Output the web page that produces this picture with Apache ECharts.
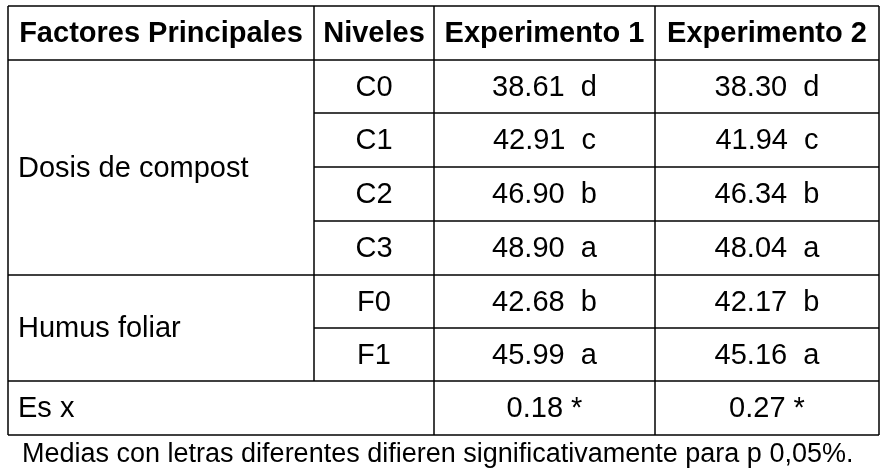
<!DOCTYPE html>
<html><head><meta charset="utf-8">
<script src="https://cdn.jsdelivr.net/npm/echarts@6/dist/echarts.min.js"></script>
<style>html,body{margin:0;background:#fff}#c{width:890px;height:472px}</style>
</head><body><div id="c"></div>
<script>
var headers = ['Factores Principales', 'Niveles', 'Experimento 1', 'Experimento 2'];
var factors = [['Dosis de compost', 4], ['Humus foliar', 2]];
var levels = ['C0', 'C1', 'C2', 'C3', 'F0', 'F1'];
var exp1 = ['38.61  d', '42.91  c', '46.90  b', '48.90  a', '42.68  b', '45.99  a'];
var exp2 = ['38.30  d', '41.94  c', '46.34  b', '48.04  a', '42.17  b', '45.16  a'];
var esx = ['Es x', '0.18 *', '0.27 *'];
var note = 'Medias con letras diferentes difieren significativamente para p 0,05%.';

var colX = [8, 314, 434, 655, 879];
var rowY = [6, 60, 113, 167, 221, 275, 328, 381, 435];
var font = '29px "Liberation Sans", Arial, sans-serif';
var els = [];
function line(x1, y1, x2, y2) {
  els.push({ type: 'line', shape: { x1: x1, y1: y1, x2: x2, y2: y2 }, style: { stroke: '#000', lineWidth: 1.5 } });
}
function txt(s, x, y, align, bold) {
  els.push({ type: 'text', x: x, y: y, style: { text: s, fill: '#000', align: align, verticalAlign: 'middle',
    font: (bold ? 'bold ' : '') + font } });
}
// outer frame & column lines
line(colX[0], rowY[0], colX[4], rowY[0]);
line(colX[0], rowY[8], colX[4], rowY[8]);
line(colX[0], rowY[0], colX[0], rowY[8]);
line(colX[4], rowY[0], colX[4], rowY[8]);
line(colX[1], rowY[0], colX[1], rowY[7]);
line(colX[2], rowY[0], colX[2], rowY[8]);
line(colX[3], rowY[0], colX[3], rowY[8]);
// horizontal lines
line(colX[0], rowY[1], colX[4], rowY[1]);
for (var r = 2; r < 8; r++) {
  var full = (r === 5 || r === 7);
  line(full ? colX[0] : colX[1], rowY[r], colX[4], rowY[r]);
}
headers.forEach(function (h, i) {
  txt(h, (colX[i] + colX[i + 1]) / 2, (rowY[0] + rowY[1]) / 2 + 1, 'center', true);
});
var start = 1;
factors.forEach(function (f) {
  txt(f[0], colX[0] + 10, (rowY[start] + rowY[start + f[1]]) / 2 + 1, 'left');
  start += f[1];
});
levels.forEach(function (l, i) {
  var cy = (rowY[i + 1] + rowY[i + 2]) / 2 + 1;
  txt(l, (colX[1] + colX[2]) / 2, cy, 'center');
  txt(exp1[i], (colX[2] + colX[3]) / 2, cy, 'center');
  txt(exp2[i], (colX[3] + colX[4]) / 2, cy, 'center');
});
var ey = (rowY[7] + rowY[8]) / 2 + 1;
txt(esx[0], colX[0] + 10, ey, 'left');
txt(esx[1], (colX[2] + colX[3]) / 2, ey, 'center');
txt(esx[2], (colX[3] + colX[4]) / 2, ey, 'center');
els.push({ type: 'text', x: 22, y: 455, style: { text: note, fill: '#000', verticalAlign: 'middle',
  font: '27px "Liberation Sans", Arial, sans-serif' } });

var chart = echarts.init(document.getElementById('c'));
chart.setOption({ graphic: { elements: els } });
</script></body></html>
